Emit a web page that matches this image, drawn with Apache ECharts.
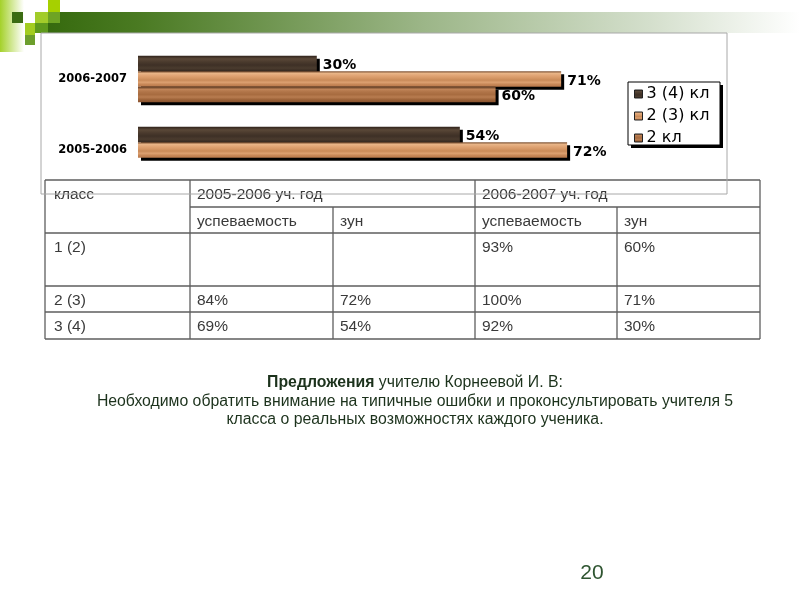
<!DOCTYPE html>
<html>
<head>
<meta charset="utf-8">
<script src="https://cdn.jsdelivr.net/npm/echarts@6/dist/echarts.min.js"></script>
<style>html,body{margin:0;padding:0;background:#fff;}#c{width:800px;height:600px;}</style>
</head>
<body>
<div id="c"></div>
<script>
// ---- chart data ----
const categories = ['2006-2007', '2005-2006'];
const seriesNames = ['3 (4) кл', '2 (3) кл', '2 кл'];
const s34 = [30, 54];
const s23 = [71, 72];
const s2 = [60, null];

// ---- table data ----
const tableHeader1 = ['класс', '2005-2006 уч. год', '2006-2007 уч. год'];
const tableHeader2 = ['успеваемость', 'зун', 'успеваемость', 'зун'];
const tableClasses = ['1 (2)', '2 (3)', '3 (4)'];
const perf2005 = ['', '84%', '69%'];
const zun2005 = ['', '72%', '54%'];
const perf2006 = ['93%', '100%', '92%'];
const zun2006 = ['60%', '71%', '30%'];

// ---- slide texts ----
const noteBold = 'Предложения';
const noteRest = ' учителю Корнеевой И. В:';
const noteLine2 = 'Необходимо обратить внимание на типичные ошибки и проконсультировать учителя 5';
const noteLine3 = 'класса о реальных возможностях каждого ученика.';
const pageNumber = '20';

const chart = echarts.init(document.getElementById('c'));

function grad(stops) {
  return new echarts.graphic.LinearGradient(0, 0, 0, 1, stops.map((c, i) => ({offset: i / (stops.length - 1), color: c})));
}
const colDark = grad(['#2e221a', '#5a4838', '#4a3a2d', '#3e3026', '#4a3b2e', '#35281f']);
const colTan = grad(['#7a5032', '#e8b486', '#e0a474', '#d69866', '#c98a58', '#dca070', '#c68656', '#b8794c']);
const colMid = grad(['#5a3820', '#c08458', '#b07448', '#a86c40', '#b87c50', '#9c6238', '#8a5430']);
const cols = [colDark, colTan, colMid];
const dataSets = [s34, s23, s2];

const series = seriesNames.map((n, i) => ({
  name: n,
  type: 'bar',
  data: dataSets[i],
  barWidth: 15.5,
  barGap: '0%',
  itemStyle: {
    color: cols[i],
    borderWidth: 0,
    shadowColor: '#000',
    shadowOffsetX: 3,
    shadowOffsetY: 3,
    shadowBlur: 0
  },
  label: {
    show: true,
    position: 'right',
    distance: 6,
    formatter: p => p.value + '%',
    fontFamily: 'DejaVu Sans',
    fontWeight: 'bold',
    fontSize: 14,
    color: '#000',
    offset: [0, 2]
  },
  emphasis: {disabled: true}
}));

// table graphics
const colX = [45, 190, 333, 475, 617, 760];
const rowY = [180, 207, 233, 286, 312, 339];
const lineStyle = {stroke: '#5e5e5e', lineWidth: 1.3};
const tableG = [];
function hl(x1, x2, y) { tableG.push({type: 'line', shape: {x1, y1: y, x2, y2: y}, style: lineStyle, z: 10}); }
function vl(x, y1, y2) { tableG.push({type: 'line', shape: {x1: x, y1, x2: x, y2}, style: lineStyle, z: 10}); }
hl(colX[0], colX[5], rowY[0]);
hl(colX[1], colX[5], rowY[1]);
for (let r = 2; r < rowY.length; r++) hl(colX[0], colX[5], rowY[r]);
vl(colX[0], rowY[0], rowY[5]);
vl(colX[1], rowY[0], rowY[5]);
vl(colX[2], rowY[1], rowY[5]);
vl(colX[3], rowY[0], rowY[5]);
vl(colX[4], rowY[1], rowY[5]);
vl(colX[5], rowY[0], rowY[5]);
function cell(txt, c, r) {
  if (!txt) return;
  tableG.push({type: 'text', x: colX[c] + (c === 0 ? 9 : 7), y: rowY[r] + 15, z: 11,
    style: {text: txt, fontFamily: 'Liberation Sans, Arial', fontSize: 15.5, fill: '#3a3a3a', verticalAlign: 'middle', align: 'left'}});
}
cell(tableHeader1[0], 0, 0);
cell(tableHeader1[1], 1, 0);
cell(tableHeader1[2], 3, 0);
tableHeader2.forEach((t, i) => cell(t, i + 1, 1));
tableClasses.forEach((t, i) => {
  cell(t, 0, i + 2);
  cell(perf2005[i], 1, i + 2);
  cell(zun2005[i], 2, i + 2);
  cell(perf2006[i], 3, i + 2);
  cell(zun2006[i], 4, i + 2);
});

const noteFont = 'Liberation Sans, Arial';
const noteSize = 15.8;
const noteColor = '#1c321c';
const deco = [
  {type: 'rect', shape: {x: 0, y: 0, width: 24, height: 52}, style: {fill: new echarts.graphic.LinearGradient(0, 0, 1, 0, [{offset: 0, color: '#a4d12a'}, {offset: 1, color: '#ffffff'}])}, z: 1},
  {type: 'rect', shape: {x: 48, y: 12, width: 752, height: 21}, style: {fill: new echarts.graphic.LinearGradient(0, 0, 1, 0, [{offset: 0, color: '#366a0e'}, {offset: 0.12, color: '#4a7a22'}, {offset: 0.5, color: '#9cb688'}, {offset: 0.8, color: '#d4dfcc'}, {offset: 1, color: '#ffffff'}])}, z: 2},
  {type: 'rect', shape: {x: 12, y: 12, width: 11, height: 11}, style: {fill: '#3b6c12'}, z: 3},
  {type: 'rect', shape: {x: 35, y: 12, width: 13, height: 11}, style: {fill: '#a2cc2a'}, z: 3},
  {type: 'rect', shape: {x: 48, y: 0, width: 12, height: 12}, style: {fill: '#a6d000'}, z: 3},
  {type: 'rect', shape: {x: 48, y: 12, width: 12, height: 11}, style: {fill: '#6ea424'}, z: 3},
  {type: 'rect', shape: {x: 25, y: 23, width: 10, height: 12}, style: {fill: '#a2cc20'}, z: 3},
  {type: 'rect', shape: {x: 35, y: 23, width: 13, height: 10}, style: {fill: '#5e9a1c'}, z: 3},
  {type: 'rect', shape: {x: 25, y: 35, width: 10, height: 10}, style: {fill: '#6c9e2c'}, z: 3},
  // chart frame
  {type: 'rect', shape: {x: 41, y: 33, width: 686, height: 161}, style: {fill: 'none', stroke: '#a8a8a8', lineWidth: 1}, z: 12},
  // legend box: shadow then box
  {type: 'rect', shape: {x: 631, y: 85, width: 92, height: 63}, style: {fill: '#000'}, z: 1},
  {type: 'rect', shape: {x: 628, y: 82, width: 92, height: 63}, style: {fill: '#fff', stroke: '#000', lineWidth: 1}, z: 2},
  // notes
  {type: 'text', x: 415, y: 383, z: 5, style: {
    text: '{b|' + noteBold + '}{n|' + noteRest + '}', align: 'center', verticalAlign: 'middle',
    rich: {b: {fontFamily: noteFont, fontSize: noteSize, fontWeight: 'bold', fill: noteColor},
           n: {fontFamily: noteFont, fontSize: noteSize, fill: noteColor}}}},
  {type: 'text', x: 415, y: 402, z: 5, style: {text: noteLine2, fontFamily: noteFont, fontSize: noteSize, fill: noteColor, align: 'center', verticalAlign: 'middle'}},
  {type: 'text', x: 415, y: 420, z: 5, style: {text: noteLine3, fontFamily: noteFont, fontSize: noteSize, fill: noteColor, align: 'center', verticalAlign: 'middle'}},
  {type: 'text', x: 592, y: 573, z: 5, style: {text: pageNumber, fontFamily: noteFont, fontSize: 21, fill: '#2e5430', align: 'center', verticalAlign: 'middle'}}
];

chart.setOption({
  backgroundColor: '#ffffff',
  animation: false,
  grid: {left: 138, top: 43.5, width: 596, height: 142, containLabel: false},
  xAxis: {type: 'value', min: 0, max: 100, show: false},
  yAxis: {
    type: 'category', data: categories, inverse: true,
    axisLine: {show: false}, axisTick: {show: false}, splitLine: {show: false},
    axisLabel: {fontFamily: 'DejaVu Sans', fontWeight: 'bold', fontSize: 11.5, color: '#000', margin: 11}
  },
  legend: {
    orient: 'vertical', left: 634, top: 86, z: 5,
    data: seriesNames,
    icon: 'rect', itemWidth: 8, itemHeight: 8, itemGap: 6,
    padding: 0,
    selectedMode: false,
    itemStyle: {borderColor: '#222', borderWidth: 1, shadowColor: 'rgba(0,0,0,0)', shadowBlur: 0, shadowOffsetX: 0, shadowOffsetY: 0},
    textStyle: {fontFamily: 'DejaVu Sans', fontSize: 16, color: '#000', padding: [0, 0, 0, -1]}
  },
  series: series,
  graphic: {elements: deco.concat(tableG)}
});
</script>
</body>
</html>
